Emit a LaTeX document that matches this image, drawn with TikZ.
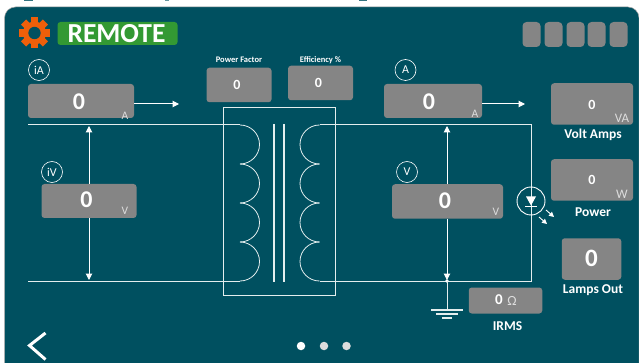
\documentclass[tikz,border=0pt]{standalone}
\usepackage{fontspec}
\setmainfont{Carlito}
\usetikzlibrary{arrows.meta}
\definecolor{panel}{HTML}{005060}
\definecolor{tile}{HTML}{858585}
\definecolor{wire}{HTML}{E4EEEE}
\definecolor{badge}{HTML}{339933}
\definecolor{gearc}{HTML}{EE5F0A}
\definecolor{dotc}{HTML}{DDDDDD}
\tikzset{
  x=1pt,y=-1pt,
  tile/.style={fill=tile,rounded corners=3pt,draw=none},
  wireline/.style={draw=wire,line width=1pt},
  coil/.style={draw=wire,line width=0.8pt},
  arr/.style={draw=white,line width=1pt,-{Triangle[length=6.5pt,width=6.5pt]}},
  val/.style={text=white,font=\bfseries,inner sep=0pt},
  unit/.style={text=dotc,font=\fontsize{11.5}{11.5}\selectfont,inner sep=0pt},
  capt/.style={text=white,font=\bfseries\fontsize{13.5}{14}\selectfont,inner sep=0pt},
  smallcapt/.style={text=white,font=\bfseries\fontsize{8.5}{9}\selectfont,inner sep=0pt},
  ring/.style={circle,draw=white,line width=0.6pt,minimum size=21pt,inner sep=0pt,text=white,font=\fontsize{12}{12}\selectfont},
  spot/.style={circle,fill=#1,inner sep=0pt,minimum size=8.5pt},
  lampray/.style={white,line width=0.9pt,-{Triangle[length=5pt,width=5pt]}},
}
\begin{document}
\begin{tikzpicture}
\useasboundingbox (0,0) rectangle (639,363);
\fill[white] (0,0) rectangle (639,363);
\fill[panel,rounded corners=11pt,draw=black!35,line width=0.5pt] (4.5,7) -- (639,7) -- (639,380) -- (4.5,380) -- cycle;
\fill[white] (0,363) rectangle (639,364);
% cut-off marks on the top edge
\fill[panel!80] (24,0) rectangle (33,1);
\fill[panel!60] (165,0) rectangle (169,1);
\fill[panel!80] (359,0) rectangle (367,1);
% gear
\begin{scope}[shift={(34.5,33)}]
  \fill[gearc] (0,0) circle (11.5);
  \foreach \a in {0,45,...,315}
    \fill[gearc,rotate=\a] (-3.6,-15.5) rectangle (3.6,-9);
  \fill[panel] (0,0) circle (6.2);
\end{scope}
\node[fill=badge,rounded corners=3pt,minimum width=120pt,minimum height=23pt,inner sep=0pt] (badge) at (117.5,33.5) {};
\node[text=white,font=\bfseries\fontsize{27.5}{27.5}\selectfont,inner sep=0pt] at (116.5,33.5) {REMOTE};
% status tiles
\foreach \x in {522,544,566,587,609}
  \fill[tile,rounded corners=4pt] (\x.5,22) rectangle +(18,25);
% tiles
\node[tile,minimum width=106pt,minimum height=34pt] (ia) at (81,101) {};
\node[tile,minimum width=95pt,minimum height=34pt] (iv) at (89,201) {};
\node[tile,minimum width=65pt,minimum height=34.5pt] (pf) at (239,85) {};
\node[tile,minimum width=65pt,minimum height=34.5pt] (eff) at (320.5,83) {};
\node[tile,minimum width=98pt,minimum height=34pt] (a) at (433,101) {};
\node[tile,minimum width=111pt,minimum height=34.5pt] (v) at (447.5,201.5) {};
\node[tile,minimum width=82pt,minimum height=41.5pt] (va) at (592,104) {};
\node[tile,minimum width=82pt,minimum height=41.5pt] (w) at (592,180) {};
\node[tile,minimum width=59.5pt,minimum height=41.5pt] (lamps) at (591.5,259) {};
\node[tile,minimum width=73.5pt,minimum height=26pt] (irms) at (505.5,300.5) {};
% wires
\coordinate (la) at (28,125);
\coordinate (lb) at (28,281);
\coordinate (ra) at (531,125);
\coordinate (rb) at (531,281);
\draw[wireline] (la) -- (240,125);
\draw[wireline] (lb) -- (240,281);
\draw[wireline] (319.5,125) -- (ra) -- (rb) -- (319.5,281);
% transformer box
\draw[draw=wire,line width=1pt] (223,108) rectangle (335.5,295);
% coils
\foreach \y in {125,164,203,242}{
  \draw[coil] (240,\y) arc[start angle=-90,end angle=90,radius=19.5];
  \draw[coil] (319.5,\y) arc[start angle=270,end angle=90,radius=19.5];
}
\draw[wire,line width=1.1pt] (274,124) -- (274,281.5);
\draw[wire,line width=1.1pt] (284,124) -- (284,281.5);
% meter arrows
\coordinate (ia1) at (179,104);
\coordinate (a1) at (525,104);
\draw[arr] (ia.east |- ia1) -- (ia1);
\draw[arr] (a.east |- a1) -- (a1);
\draw[arr] (89,184) -- (89,126);
\draw[arr] (89,218) -- (89,280);
\draw[arr] (447,184) -- (447,126);
\draw[arr] (447,219) -- (447,280);
% ground
\coordinate (gnd) at (447,310);
\fill[white] (447,281) circle (1.8);
\draw[wireline] (447,281) -- (gnd);
\draw[wire,line width=1.1pt] (431,310) -- (463,310);
\draw[wire,line width=1.1pt] (436,314) -- (458,314);
\draw[wire,line width=1.1pt] (442,318) -- (452,318);
% lamp
\node[circle,draw=white,line width=0.9pt,minimum size=28pt,inner sep=0pt] (led) at (531,201) {};
\fill[white] (526,196.5) -- (536,196.5) -- (531,205.5) -- cycle;
\draw[white,line width=1.6pt] (525,206.5) -- (537,206.5);
\draw[lampray] (546,210) -- (554,217);
\draw[lampray] (539,217) -- (547,224);
% rings
\node[ring] (iar) at (39,70) {iA};
\node[ring] (ivr) at (52,172) {iV};
\node[ring] (ar) at (405.5,70) {A};
\node[ring] (vr) at (407,172) {V};
% values
\node[val,font=\bfseries\fontsize{24}{24}\selectfont] at (79,102) {0};
\node[val,font=\bfseries\fontsize{24}{24}\selectfont] at (86.5,200) {0};
\node[val,font=\bfseries\fontsize{24}{24}\selectfont] at (429,102) {0};
\node[val,font=\bfseries\fontsize{24}{24}\selectfont] at (445,201) {0};
\node[val,font=\bfseries\fontsize{14}{14}\selectfont] at (237,84.5) {0};
\node[val,font=\bfseries\fontsize{14}{14}\selectfont] at (318.5,83) {0};
\node[val,font=\bfseries\fontsize{14}{14}\selectfont] at (592,105) {0};
\node[val,font=\bfseries\fontsize{14}{14}\selectfont] at (592,180) {0};
\node[val,font=\bfseries\fontsize{25}{25}\selectfont] at (591.5,258) {0};
\node[val,font=\bfseries\fontsize{15}{15}\selectfont] at (499,300) {0};
% units
\node[unit] at (125,115.5) {A};
\node[unit] at (125,211) {V};
\node[unit] at (475,114) {A};
\node[unit] at (496,212) {V};
\node[unit,font=\fontsize{13}{13}\selectfont] at (622,118) {VA};
\node[unit,font=\fontsize{13}{13}\selectfont] at (622,194) {W};
\node[unit,font=\fontsize{14}{14}\selectfont] at (512,300.5) {Ω};
% captions
\node[smallcapt] at (239,60) {Power Factor};
\node[smallcapt] at (320.5,60) {Efficiency \%};
\node[capt] at (593,135) {Volt Amps};
\node[capt] at (593,212) {Power};
\node[capt] at (593,290) {Lamps Out};
\node[capt] at (507.5,326.5) {IRMS};
% back chevron
\draw[white,line width=3pt] (45.5,333) -- (29.5,345.5) -- (45.5,359.5);
% dots
\node[spot=white] (d1) at (301,346) {};
\node[spot=dotc] (d2) at (324,346) {};
\node[spot=dotc] (d3) at (346.5,346) {};
\end{tikzpicture}
\end{document}
